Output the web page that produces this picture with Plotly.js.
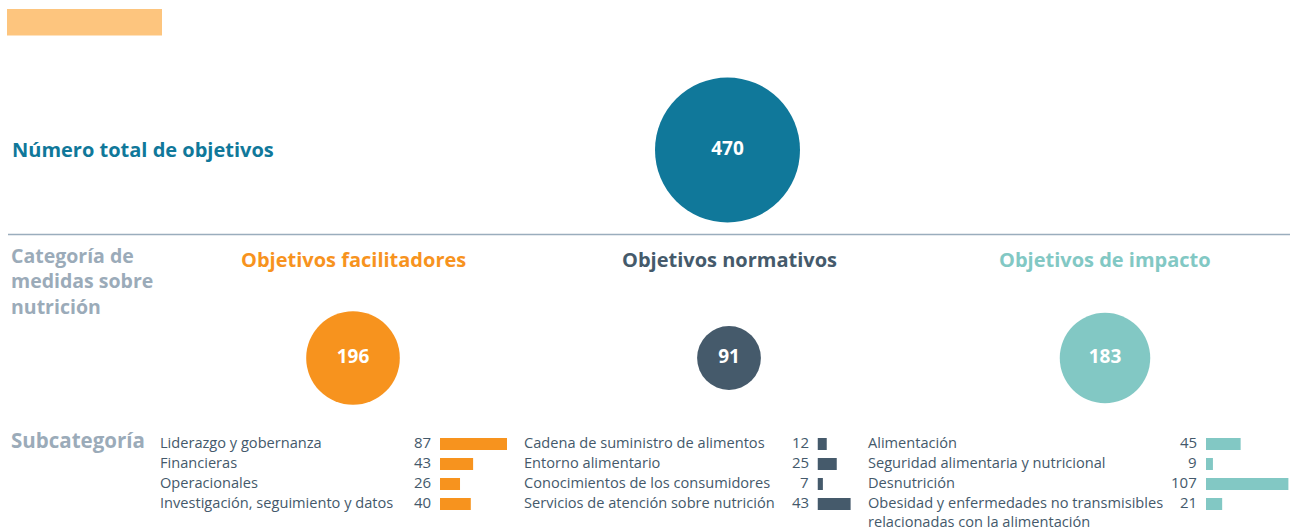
<!DOCTYPE html>
<html><head><meta charset="utf-8">
<script src="https://cdn.plot.ly/plotly-3.0.1.min.js"></script>
<style>html,body{margin:0;padding:0;background:#fff}#chart{width:1290px;height:529px}</style>
</head><body><div id="chart"></div>
<script>
// ---------- data ----------
const levels = ['Número total de objetivos', 'Categoría de medidas sobre nutrición', 'Subcategoría'];
const totalLabel = ['Total'];
const totalValue = [470];
const categories = ['Objetivos facilitadores', 'Objetivos normativos', 'Objetivos de impacto'];
const categoryValues = [196, 91, 183];
const facilSub = ['Liderazgo y gobernanza', 'Financieras', 'Operacionales', 'Investigación, seguimiento y datos'];
const facilVals = [87, 43, 26, 40];
const normSub = ['Cadena de suministro de alimentos', 'Entorno alimentario', 'Conocimientos de los consumidores', 'Servicios de atención sobre nutrición'];
const normVals = [12, 25, 7, 43];
const impSub = ['Alimentación', 'Seguridad alimentaria y nutricional', 'Desnutrición', 'Obesidad y enfermedades no transmisibles<br>relacionadas con la alimentación'];
const impVals = [45, 9, 107, 21];

// ---------- style ----------
const W = 1290, H = 529;
const FONT = 'Open Sans, sans-serif';
const totalColor = '#10789a';
const catColors = ['#f7931e', '#455a6b', '#82c8c4'];
const labelGray = '#9babb9';
const textDark = '#44596b';
const px = x => x / W;
const py = y => 1 - y / H;

// circle axes: category spacing in pixels
const catStep = 376, catX0 = 353, totX = 727.5;
const levStep = 208, levY0 = 150;
// bubble area scaling
const maxDiam = 145;
const sizeref = 2 * totalValue[0] / (maxDiam * maxDiam);

const barGroups = [
  {names: facilSub, vals: facilVals, color: catColors[0], x0: 440, labelX: 160},
  {names: normSub, vals: normVals, color: catColors[1], x0: 817.5, labelX: 524},
  {names: impSub, vals: impVals, color: catColors[2], x0: 1206, labelX: 868}
];
const barMax = 108, barPxPerUnit = 0.77;
const barTop = 434, barBottom = 514;

const data = [];
const layout = {
  width: W, height: H,
  margin: {l: 0, r: 0, t: 0, b: 0},
  paper_bgcolor: '#fff', plot_bgcolor: 'rgba(0,0,0,0)',
  showlegend: false,
  font: {family: FONT, color: textDark},
  xaxis: {type: 'category', categoryarray: categories, range: [-catX0 / catStep, (W - catX0) / catStep],
          domain: [0, 1], visible: false, fixedrange: true, anchor: 'y'},
  xaxis2: {type: 'category', categoryarray: totalLabel, range: [-totX / catStep, (W - totX) / catStep],
           domain: [0, 1], visible: false, overlaying: 'x', anchor: 'y'},
  yaxis: {type: 'category', categoryarray: levels, range: [(H - levY0) / levStep, -levY0 / levStep],
          domain: [0, 1], visible: false, fixedrange: true, anchor: 'x'},
  shapes: [
    {type: 'rect', xref: 'paper', yref: 'paper', x0: px(7), x1: px(162), y0: py(35.5), y1: py(9), fillcolor: '#fdc57e', line: {width: 0}},
    {type: 'line', xref: 'paper', yref: 'paper', x0: px(8), x1: 1, y0: py(234.5), y1: py(234.5), line: {color: '#9aadbd', width: 1.3}}
  ],
  annotations: []
};

// total circle
data.push({
  type: 'scatter', mode: 'markers+text', x: totalLabel, y: [levels[0]], xaxis: 'x2', yaxis: 'y',
  text: totalValue.map(String), textposition: 'middle center',
  textfont: {family: FONT, size: 19, color: '#fff', weight: 700},
  marker: {size: totalValue, sizemode: 'area', sizeref: sizeref, color: totalColor, opacity: 1, line: {width: 0}},
  cliponaxis: false, hoverinfo: 'skip'
});
// category circles
data.push({
  type: 'scatter', mode: 'markers+text', x: categories, y: categories.map(() => levels[1]), xaxis: 'x', yaxis: 'y',
  text: categoryValues.map(String), textposition: 'middle center',
  textfont: {family: FONT, size: 19, color: '#fff', weight: 700},
  marker: {size: categoryValues, sizemode: 'area', sizeref: sizeref, color: catColors, opacity: 1, line: {width: 0}},
  cliponaxis: false, hoverinfo: 'skip'
});
// category titles
categories.forEach((c, i) => {
  layout.annotations.push({xref: 'x', yref: 'paper', x: c, y: py(259), xanchor: 'center', yanchor: 'middle',
    text: '<b>' + c + '</b>', showarrow: false, font: {family: FONT, size: 20, color: catColors[i]}});
});
// row titles on the left
layout.annotations.push({xref: 'paper', yref: 'paper', x: px(10), y: py(149), xanchor: 'left', yanchor: 'middle',
  text: '<b>' + levels[0] + '</b>', showarrow: false, font: {family: FONT, size: 20, color: totalColor}});
layout.annotations.push({xref: 'paper', yref: 'paper', x: px(9), y: py(281), xanchor: 'left', yanchor: 'middle',
  text: '<b>Categoría de<br>medidas sobre<br>nutrición</b>', align: 'left', showarrow: false,
  font: {family: FONT, size: 19.5, color: labelGray}});
layout.annotations.push({xref: 'paper', yref: 'paper', x: px(9), y: py(440), xanchor: 'left', yanchor: 'middle',
  text: '<b>' + levels[2] + '</b>', showarrow: false, font: {family: FONT, size: 20.5, color: labelGray}});

// bar subplots
barGroups.forEach((g, k) => {
  const n = k + 3;
  const xa = 'xaxis' + n, ya = 'yaxis' + n;
  layout[xa] = {domain: [px(g.x0), px(g.x0 + barMax * barPxPerUnit)], range: [0, barMax], visible: false,
                anchor: 'y' + n, fixedrange: true};
  layout[ya] = {domain: [py(barBottom), py(barTop)], type: 'category', categoryarray: g.names,
                range: [g.names.length - 0.5, -0.5], visible: false, anchor: 'x' + n, fixedrange: true};
  data.push({type: 'bar', orientation: 'h', x: g.vals, y: g.names, xaxis: 'x' + n, yaxis: 'y' + n,
             width: 0.6, marker: {color: g.color, line: {width: 0}}, hoverinfo: 'skip'});
  g.names.forEach((nm, i) => {
    const multi = nm.indexOf('<br>') >= 0;
    layout.annotations.push({xref: 'paper', yref: 'y' + n, x: px(g.labelX - 2), y: nm,
      xanchor: 'left', yanchor: multi ? 'top' : 'middle', yshift: multi ? 14 : 2,
      text: nm, showarrow: false, align: 'left', font: {family: FONT, size: 14.6, color: textDark}});
    layout.annotations.push({xref: 'paper', yref: 'y' + n, x: px(g.x0 - 7), y: nm,
      xanchor: 'right', yanchor: 'middle', yshift: 2, text: String(g.vals[i]), showarrow: false,
      font: {family: FONT, size: 15, color: textDark}});
  });
});

Plotly.newPlot('chart', data, layout, {displayModeBar: false, staticPlot: true});
</script></body></html>
